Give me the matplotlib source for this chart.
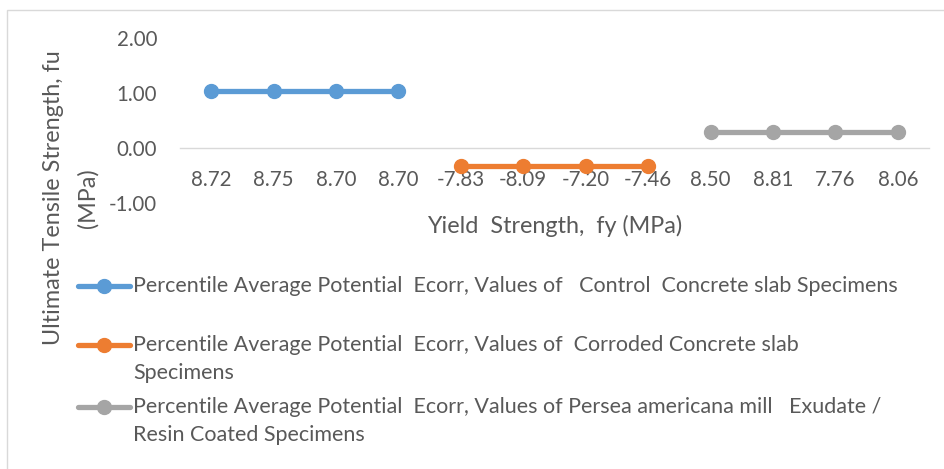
import numpy as np
import matplotlib
matplotlib.use("Agg")
import matplotlib.pyplot as plt
from matplotlib.lines import Line2D
from matplotlib.patches import Rectangle

# ---- data -------------------------------------------------------------
categories = ["8.72", "8.75", "8.70", "8.70",
              "-7.83", "-8.09", "-7.20", "-7.46",
              "8.50", "8.81", "7.76", "8.06"]
nan = np.nan
control = [1.03, 1.03, 1.03, 1.03, nan, nan, nan, nan, nan, nan, nan, nan]
corroded = [nan, nan, nan, nan, -0.33, -0.33, -0.33, -0.33, nan, nan, nan, nan]
coated = [nan, nan, nan, nan, nan, nan, nan, nan, 0.29, 0.29, 0.29, 0.29]

series_labels = [
    ["Percentile Average Potential  Ecorr, Values of   Control  Concrete slab Specimens"],
    ["Percentile Average Potential  Ecorr, Values of  Corroded Concrete slab",
     "Specimens"],
    ["Percentile Average Potential  Ecorr, Values of Persea americana mill   Exudate /",
     "Resin Coated Specimens"],
]
colors = ["#5B9BD5", "#ED7D31", "#A5A5A5"]
y_ticks = [-1.0, 0.0, 1.0, 2.0]

TEXT = "#595959"
FONT = "Lato"
plt.rcParams["font.family"] = [FONT, "DejaVu Sans"]

TICK_SIZE = 14.8
LEGEND_SIZE = 15.45
TITLE_SIZE = 16.8

W, H = 945, 469
fig = plt.figure(figsize=(W / 100, H / 100), dpi=100)


def fx(px):
    return px / W


def fy(py):
    return 1 - py / H


# chart frame
fig.add_artist(Rectangle((fx(7.5), fy(480)), fx(960), fy(10.5) - fy(480),
                         transform=fig.transFigure, fill=False,
                         edgecolor="#D9D9D9", linewidth=1.0, clip_on=False))

left, right, top, bottom = 180, 929, 37.5, 203
ax = fig.add_axes([fx(left), fy(bottom), fx(right - left), fy(top) - fy(bottom)])

x = np.arange(len(categories))
for vals, c in zip([control, corroded, coated], colors):
    ax.plot(x, vals, color=c, linewidth=3.8, marker="o", markersize=10,
            solid_capstyle="round", zorder=3)

ax.set_xlim(-0.5, len(categories) - 0.5)
ax.set_ylim(-1.0, 2.0)
ax.set_yticks(y_ticks)
ax.set_yticklabels([f"{v:.2f}" for v in y_ticks])
ax.set_xticks(x)
ax.set_xticklabels(categories)

for s in ["top", "right", "left"]:
    ax.spines[s].set_visible(False)
ax.spines["bottom"].set_position(("data", 0))
ax.spines["bottom"].set_color("#D9D9D9")
ax.spines["bottom"].set_linewidth(1.0)
ax.spines["bottom"].set_zorder(1)

ax.tick_params(axis="x", length=0, pad=16, labelsize=TICK_SIZE, labelcolor=TEXT)
ax.tick_params(axis="y", length=0, pad=16.5, labelsize=TICK_SIZE, labelcolor=TEXT)
ax.patch.set_alpha(0)

# axis titles
fig.text(fx(555), fy(226), "Yield  Strength,  fy (MPa)", ha="center",
         va="center", fontsize=TITLE_SIZE, color=TEXT)
fig.text(fx(54), fy(198), "Ultimate Tensile Strength, fu", rotation=90,
         ha="center", va="center", fontsize=TITLE_SIZE, color=TEXT)
fig.text(fx(88), fy(198), "(MPa)", rotation=90,
         ha="center", va="center", fontsize=TITLE_SIZE, color=TEXT)

# legend
rows = [286, 345, 407]
for yrow, c, lines in zip(rows, colors, series_labels):
    fig.add_artist(Line2D([fx(78), fx(130)], [fy(yrow), fy(yrow)],
                          transform=fig.transFigure, color=c, linewidth=3.8,
                          marker=None, solid_capstyle="round"))
    fig.add_artist(Line2D([fx(104)], [fy(yrow)], transform=fig.transFigure,
                          color=c, marker="o", markersize=10, linestyle="none"))
    for i, line in enumerate(lines):
        fig.text(fx(133), fy(yrow + 28 * i), line, ha="left", va="center",
                 fontsize=LEGEND_SIZE, color=TEXT)

fig.savefig("out.png", dpi=100)
